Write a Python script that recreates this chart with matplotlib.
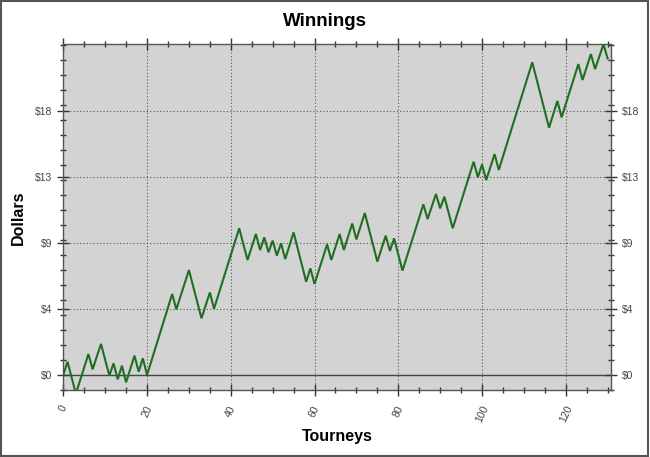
import matplotlib
matplotlib.use("Agg")
import matplotlib.pyplot as plt
from matplotlib.ticker import FixedLocator, MultipleLocator
from matplotlib.patches import Rectangle

# Turning points of the cumulative winnings line (tourney index, dollars)
tourney = [0, 1, 3, 6, 7, 9, 11, 12, 13, 14, 15, 17, 18, 19, 20, 26, 27, 30, 33, 35,
           36, 42, 44, 46, 47, 48, 49, 50, 51, 52, 53, 55, 58, 59, 60, 63, 64, 66, 67, 69,
           70, 72, 75, 77, 78, 79, 81, 86, 87, 89, 90, 91, 93, 98, 99, 100, 101, 103, 104,
           112, 116, 118, 119, 123, 124, 126, 127, 129, 130]
dollars = [0, 0.89, -1.25, 1.4, 0.38, 2.07, -0.04, 0.78, -0.29, 0.62, -0.49, 1.29, 0.22,
           1.11, 0, 5.4, 4.38, 7.0, 3.78, 5.5, 4.42, 9.78, 7.67, 9.4, 8.33, 9.18, 8.18,
           8.96, 7.96, 8.78, 7.73, 9.51, 6.22, 7.11, 6.07, 8.71, 7.67, 9.4, 8.33, 10.1,
           9.04, 10.8, 7.56, 9.29, 8.27, 9.11, 6.96, 11.38, 10.4, 12.07, 11.11, 11.89,
           9.78, 14.22, 13.18, 14.04, 13.0, 14.73, 13.67, 20.85, 16.49, 18.27, 17.18,
           20.73, 19.67, 21.4, 20.4, 22.05, 21.1]

y_ticks = [0, 4.4, 8.8, 13.2, 17.6]
y_tick_labels = ["$0", "$4", "$9", "$13", "$18"]
x_ticks = [0, 20, 40, 60, 80, 100, 120]
x_tick_labels = ["0", "20", "40", "60", "80", "100", "120"]

plt.rcParams['font.family'] = ['Liberation Sans', 'DejaVu Sans']

fig = plt.figure(figsize=(6.5, 4.57), dpi=100)
ax = fig.add_axes([63.3 / 650, 1 - 390 / 457, (611 - 63.3) / 650, (390 - 44) / 457])
ax.set_facecolor('#d3d3d3')

ax.set_xlim(0, 130.8)
ax.set_ylim(-1.0, 22.07)

# grid
for xv in x_ticks[1:]:
    ax.axvline(xv, color='#555555', lw=0.8, ls=(0, (1, 2)), zorder=1)
for yv in y_ticks[1:]:
    ax.axhline(yv, color='#555555', lw=0.8, ls=(0, (1, 2)), zorder=1)
ax.axhline(0, color='#444444', lw=1.0, zorder=1)

ax.plot(tourney, dollars, color='#1f6e22', lw=1.5, zorder=3, solid_joinstyle='miter')

ax.xaxis.set_major_locator(FixedLocator(x_ticks))
ax.set_xticklabels(x_tick_labels, rotation=65, ha='center', va='top')
ax.xaxis.set_minor_locator(MultipleLocator(5))
ax.yaxis.set_major_locator(FixedLocator(y_ticks))
ax.set_yticklabels(y_tick_labels)
ax.yaxis.set_minor_locator(MultipleLocator(1))

ax.tick_params(axis='both', which='major', direction='inout', length=8, width=1,
               color='#333333', labelsize=7.5, labelcolor='#444444')
ax.tick_params(axis='both', which='minor', direction='inout', length=5, width=1,
               color='#333333')
ax.tick_params(axis='y', which='both', left=True, right=True, labelleft=True, labelright=True, pad=4)
ax.tick_params(axis='x', which='both', bottom=True, top=True, pad=6)

for s in ax.spines.values():
    s.set_color('#555555')
    s.set_linewidth(1.0)

fig.text(325 / 650, 1 - 22 / 457, "Winnings", ha='center', va='center',
         fontsize=13.5, fontweight='bold')
fig.text(18 / 650, 1 - 218 / 457, "Dollars", ha='center', va='center',
         rotation=90, fontsize=11.5, fontweight='bold')
fig.text(337 / 650, 1 - 437 / 457, "Tourneys", ha='center', va='center',
         fontsize=11.5, fontweight='bold')

fig.patches.append(Rectangle((0.001, 0.002), 0.996, 0.995, transform=fig.transFigure,
                             fill=False, edgecolor='#555555', lw=1.5))

fig.savefig("out.png", dpi=100, facecolor='white')
